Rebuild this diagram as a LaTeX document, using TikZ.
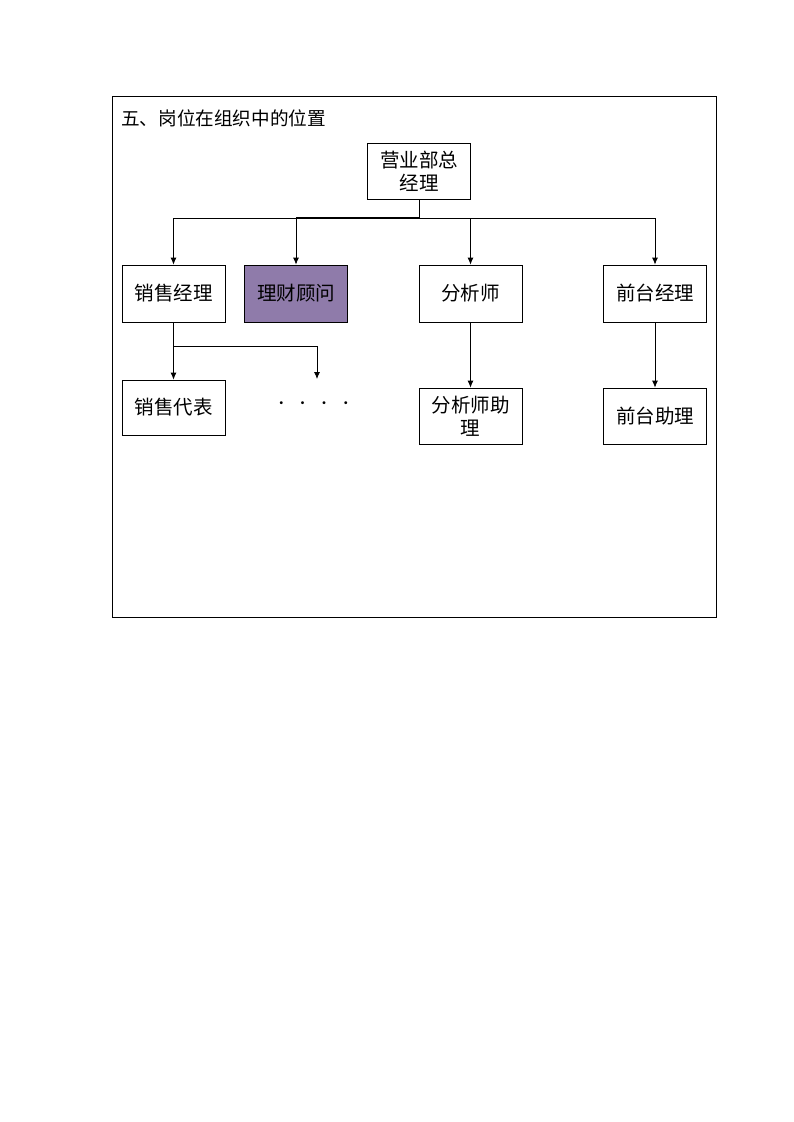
\documentclass[tikz,border=0pt]{standalone}
\usepackage{fontspec}
\setmainfont{Noto Sans CJK SC}
\usetikzlibrary{arrows.meta}
\definecolor{purp}{RGB}{143,123,170}
\begin{document}
\begin{tikzpicture}[x=1pt,y=-1pt,
  box/.style={draw,line width=0.8pt,minimum width=103pt,minimum height=57pt,inner sep=0pt,font=\fontsize{19.5}{23}\selectfont,align=center},
  arr/.style={-{Latex[length=7pt,width=6pt]},line width=0.8pt},
  ln/.style={line width=0.8pt}]
\useasboundingbox (0,0) rectangle (793,1122);
\node[draw,line width=0.8pt,minimum width=604pt,minimum height=521pt,inner sep=0pt] (frame) at (414,356.5) {};
\node[anchor=west,font=\fontsize{18.6}{22}\selectfont,inner sep=0pt] (title) at (121,118) {五、岗位在组织中的位置};
\node[box,minimum height=56pt] (top) at (419,171) {营业部总\\经理};
\node[box] (xs) at (173.5,293.5) {销售经理};
\node[box,fill=purp] (lc) at (296,293.5) {理财顾问};
\node[box] (fx) at (470.5,293.5) {分析师};
\node[box] (qt) at (655,293.5) {前台经理};
\node[box,minimum height=55pt] (db) at (173.5,407.5) {销售代表};
\node[box,minimum height=56pt] (fxz) at (470.5,416) {分析师助\\理};
\node[box,minimum height=56pt] (qtz) at (655,416) {前台助理};
\node[font=\fontsize{14}{16}\selectfont,inner sep=0pt] (dots) at (313.5,405) {·\hspace{7.5pt}·\hspace{7.5pt}·\hspace{7.5pt}·};
\coordinate (j) at (419,218);
\coordinate (d) at (317,379);
\draw[ln] (top.south) -- (j);
\draw[ln] (173.5,218) -- (655,218);
\draw[line width=1.4pt] (296,217.6) -- (419,217.6);
\draw[arr] (173.5,218) -- (xs.north);
\draw[arr] (296,218) -- (lc.north);
\draw[arr] (470.5,218) -- (fx.north);
\draw[arr] (655,218) -- (qt.north);
\draw[arr] (xs.south) -- (db.north);
\draw[ln] (173.5,346) -- (317,346);
\draw[arr] (317,346) -- (d);
\draw[arr] (fx.south) -- (fxz.north);
\draw[arr] (qt.south) -- (qtz.north);
\end{tikzpicture}
\end{document}
